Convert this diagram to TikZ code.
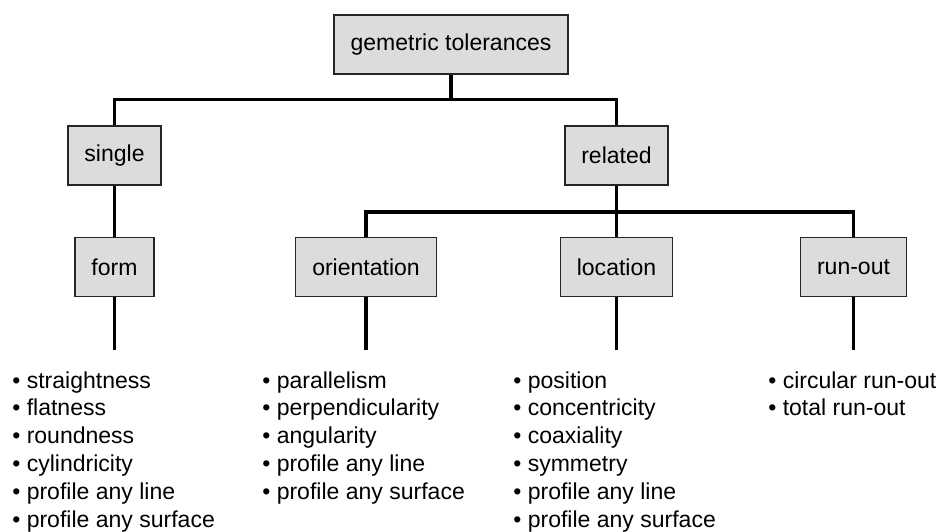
\documentclass[tikz,border=0pt]{standalone}
\usepackage{fontspec}
\usepackage{tikz}
\setmainfont{Liberation Sans}
\definecolor{boxgray}{RGB}{220,220,220}

\begin{document}
\begin{tikzpicture}[x=0.02cm,y=-0.02cm,
    every node/.style={font=\fontsize{13.1pt}{15.9pt}\selectfont},
    box/.style={draw=black!85,line width=0.8pt,fill=boxgray,minimum height=1.18cm,inner xsep=0.33cm},
    conn/.style={line width=2.2pt},
    list/.style={align=left,anchor=north west,inner sep=0pt}]
    \useasboundingbox (0,0) rectangle (946,531);
    % tree of boxes
    \node[box] (top) at (451,44.5) {gemetric tolerances};
    \node[box] (single) at (114.5,155.5) {single};
    \node[box] (related) at (616.5,155.5) {related};
    \node[box] (form) at (114.5,267) {form};
    \node[box] (orientation) at (366,267) {orientation};
    \node[box] (location) at (616.5,267) {location};
    \node[box] (runout) at (853.5,267) {run-out};
    \coordinate (topbus) at (0,99.5);
    \coordinate (relbus) at (0,212);
    \coordinate (lists) at (0,350);
    % connectors
    \draw[conn] (top.south) -- (top.south |- topbus);
    \draw[conn] (single.north) |- (related.north |- topbus) -- (related.north);
    \draw[conn] (single.south) -- (form.north);
    \draw[conn] (related.south) -- (location.north);
    \draw[conn] (orientation.north) |- (runout.north |- relbus) -- (runout.north);
    \foreach \b in {form,orientation,location,runout}
      \draw[conn] (\b.south) -- (\b.south |- lists);
    % lists below the boxes
    \node[list] (formlist) at (12,371) {• straightness\\• flatness\\• roundness\\• cylindricity\\• profile any line\\• profile any surface};
    \node[list] (orientlist) at (262,371) {• parallelism\\• perpendicularity\\• angularity\\• profile any line\\• profile any surface};
    \node[list] (loclist) at (513,371) {• position\\• concentricity\\• coaxiality\\• symmetry\\• profile any line\\• profile any surface};
    \node[list] (runlist) at (768,371) {• circular run-out\\• total run-out};
\end{tikzpicture}
\end{document}
